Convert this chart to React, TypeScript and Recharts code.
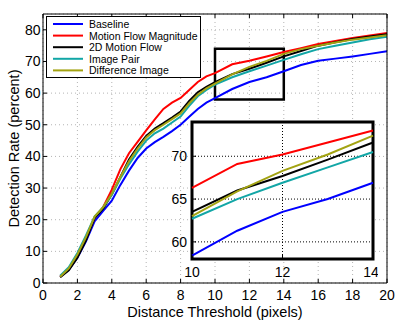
import { LineChart, Line, XAxis, YAxis, CartesianGrid, ReferenceArea, Legend } from "recharts";

// distance threshold (pixels)
const thresholds = [1, 1.5, 2, 2.5, 3, 3.5, 4, 4.5, 5, 5.5, 6, 6.5, 7, 7.5, 8, 8.5, 9, 9.5, 10, 11, 12, 13, 14, 15, 16, 17, 18, 19, 20];

// detection rate (percent)
const baseline = [2.0, 4.2, 8.0, 13.2, 19.5, 22.8, 26.0, 31.0, 35.5, 39.5, 42.5, 44.5, 46.2, 48.0, 50.0, 52.5, 55.0, 57.0, 58.4, 61.3, 63.5, 65.0, 66.9, 68.9, 70.2, 70.9, 71.6, 72.4, 73.2];
const motionFlowMagnitude = [2.0, 4.5, 8.5, 14.0, 20.5, 24.0, 29.5, 36.0, 41.0, 44.6, 48.2, 51.7, 55.0, 57.0, 58.5, 61.0, 63.5, 65.3, 66.3, 69.1, 70.2, 71.6, 73.0, 74.2, 75.5, 76.5, 77.4, 78.2, 79.0];
const motionFlow2D = [1.8, 4.0, 8.0, 13.5, 20.5, 23.5, 28.0, 33.5, 39.0, 43.0, 46.5, 48.8, 50.5, 52.3, 54.2, 57.5, 60.3, 62.0, 63.5, 66.0, 67.7, 69.6, 71.6, 73.3, 75.0, 76.1, 77.1, 77.9, 78.6];
const imagePair = [2.3, 5.0, 9.5, 15.0, 21.0, 24.0, 27.8, 33.0, 37.5, 41.5, 45.0, 47.3, 48.8, 50.7, 52.6, 56.0, 59.0, 61.0, 62.7, 65.0, 66.9, 68.7, 70.5, 72.3, 73.9, 75.0, 76.0, 77.0, 77.8];
const differenceImage = [2.0, 4.6, 9.0, 14.5, 21.0, 24.0, 28.2, 33.5, 38.5, 42.5, 46.0, 48.3, 50.0, 51.8, 53.6, 56.8, 59.5, 61.5, 63.0, 65.9, 68.3, 70.2, 72.4, 73.9, 75.0, 76.0, 76.9, 77.6, 78.3];

const xTicks = [0, 2, 4, 6, 8, 10, 12, 14, 16, 18, 20];
const yTicks = [0, 10, 20, 30, 40, 50, 60, 70, 80];

// zoomed region
const zoomX = [10, 14];
const zoomY = [58, 74];
const insetXTicks = [10, 12, 14];
const insetYTicks = [60, 65, 70];

const series = [
  { key: "baseline", name: "Baseline", color: "#0000ff", values: baseline },
  { key: "mfm", name: "Motion Flow Magnitude", color: "#ff0000", values: motionFlowMagnitude },
  { key: "mf2d", name: "2D Motion Flow", color: "#000000", values: motionFlow2D },
  { key: "pair", name: "Image Pair", color: "#12a6a6", values: imagePair },
  { key: "diff", name: "Difference Image", color: "#a3a312", values: differenceImage },
];

const data = thresholds.map((x, i) => {
  const row: Record<string, number> = { x };
  series.forEach((s) => {
    row[s.key] = s.values[i];
  });
  return row;
});
const insetData = data.filter((d) => d.x >= zoomX[0] && d.x <= zoomX[1]);

const FONT = '"Liberation Sans", Arial, Helvetica, sans-serif';
const tickStyle = { fontSize: 14, fill: "#000" };
const noTick = () => <g />;

const yTitle = (props: any) => {
  const vb = props.viewBox;
  const cx = vb.x + 14;
  const cy = vb.y + vb.height / 2;
  return (
    <text x={cx} y={cy} transform={`rotate(-90 ${cx} ${cy})`} textAnchor="middle" dominantBaseline="central" fontSize={14.5} fill="#000">
      Detection Rate (percent)
    </text>
  );
};

const LegendBox = () => (
  <svg width={155} height={62} style={{ display: "block" }}>
    <rect x={0.5} y={0.5} width={154} height={61} fill="#fff" stroke="#000" />
    {series.map((s, i) => {
      const y = 8 + i * 11.6;
      return (
        <g key={s.key}>
          <line x1={7} x2={37} y1={y} y2={y} stroke={s.color} strokeWidth={2} />
          <text x={43} y={y} dominantBaseline="central" fontSize={10.5} fill="#000">
            {s.name}
          </text>
        </g>
      );
    })}
  </svg>
);

export default function App() {
  return (
    <div style={{ position: "absolute", left: 0, top: 0, width: 399, height: 320, fontFamily: FONT, background: "#fff" }}>
      <LineChart width={399} height={320} data={data} margin={{ top: 13, right: 11, bottom: 0, left: 0 }}>
        <CartesianGrid stroke="#b4b4b4" strokeDasharray="1 3" />
        <XAxis
          dataKey="x"
          type="number"
          domain={[0, 20]}
          ticks={xTicks}
          height={37}
          tickSize={-4}
          tickMargin={11.5}
          tick={tickStyle}
          stroke="#000"
          label={{ value: "Distance Threshold (pixels)", position: "insideBottom", offset: 3.5, fontSize: 14.5, fill: "#000" }}
        />
        <XAxis xAxisId="top" orientation="top" dataKey="x" type="number" domain={[0, 20]} ticks={xTicks} height={1} tickSize={-4} tick={noTick} stroke="#000" />
        <YAxis
          type="number"
          domain={[0, 85]}
          ticks={yTicks}
          width={43}
          tickSize={-4}
          tickMargin={6.5}
          tick={tickStyle}
          stroke="#000"
          label={yTitle}
        />
        <YAxis yAxisId="right" orientation="right" type="number" domain={[0, 85]} ticks={yTicks} width={1} tickSize={-4} tick={noTick} stroke="#000" />
        <ReferenceArea x1={zoomX[0]} x2={zoomX[1]} y1={zoomY[0]} y2={zoomY[1]} fill="none" stroke="#000" strokeWidth={2.5} />
        {series.map((s) => (
          <Line key={s.key} dataKey={s.key} name={s.name} stroke={s.color} strokeWidth={2} dot={false} isAnimationActive={false} />
        ))}
        <Legend layout="vertical" align="center" verticalAlign="middle" wrapperStyle={{ left: 45.5, top: 15.5, width: 155, height: 62 }} content={LegendBox} />
      </LineChart>
      <div style={{ position: "absolute", left: 165, top: 112 }}>
        <LineChart width={213} height={172} data={insetData} margin={{ top: 10, right: 5, bottom: 0, left: 0 }}>
          <CartesianGrid fill="#fff" stroke="#000" strokeDasharray="1 2" verticalValues={[12]} horizontalValues={insetYTicks} />
          <XAxis
            dataKey="x"
            type="number"
            domain={zoomX}
            ticks={insetXTicks}
            height={25}
            tickSize={-4}
            tickMargin={12}
            tick={tickStyle}
            axisLine={false}
            stroke="#000"
          />
          <YAxis
            type="number"
            domain={zoomY}
            ticks={insetYTicks}
            width={27}
            tickSize={-4}
            tickMargin={9}
            tick={tickStyle}
            axisLine={false}
            stroke="#000"
          />
          {series.map((s) => (
            <Line key={s.key} dataKey={s.key} stroke={s.color} strokeWidth={2} dot={false} isAnimationActive={false} />
          ))}
          <ReferenceArea x1={zoomX[0]} x2={zoomX[1]} y1={zoomY[0]} y2={zoomY[1]} fill="none" stroke="#000" strokeWidth={3} />
        </LineChart>
      </div>
    </div>
  );
}
